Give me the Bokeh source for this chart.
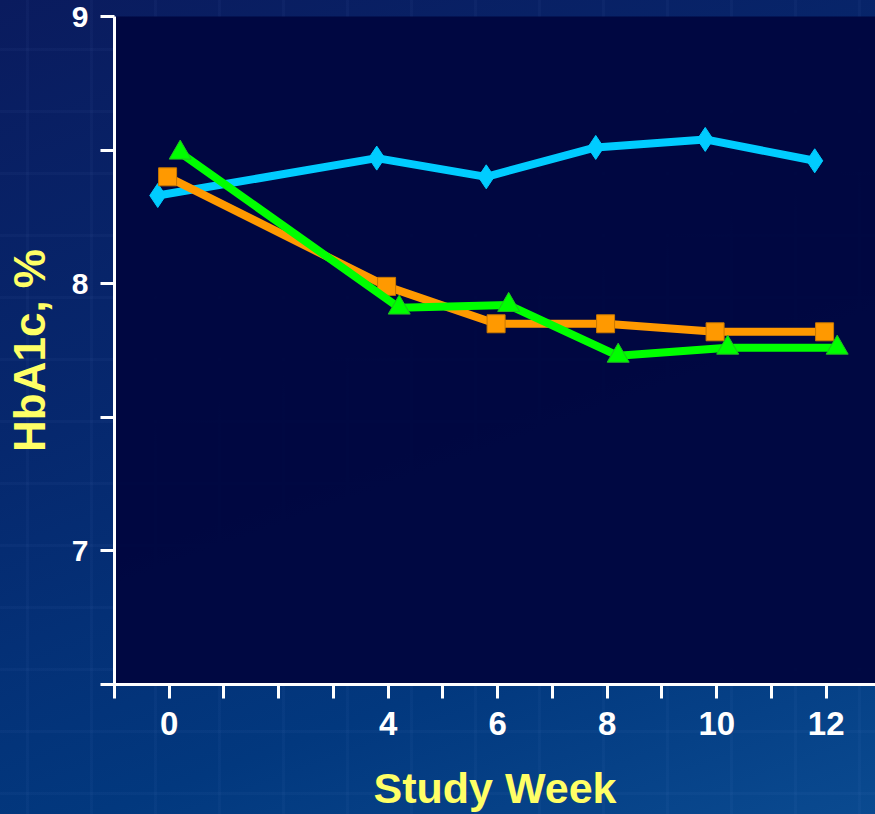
from bokeh.plotting import figure
from bokeh.models import ColumnDataSource, Range1d, FixedTicker
from bokeh.transform import dodge
from bokeh.embed import file_html
from bokeh.resources import INLINE

# HbA1c (%) by study week for the three treatment groups
weeks = [0, 4, 6, 8, 10, 12]
hba1c_cyan = [8.33, 8.47, 8.40, 8.51, 8.54, 8.46]
hba1c_orange = [8.40, 7.99, 7.85, 7.85, 7.82, 7.82]
hba1c_green = [8.49, 7.91, 7.92, 7.73, 7.76, 7.76]

# axis ticks and which of them carry a label
x_ticks = list(range(-1, 13))
x_tick_labels = ["0", "4", "6", "8", "10", "12"]
y_ticks = [6.5, 7, 7.5, 8, 8.5, 9]
y_tick_labels = ["7", "8", "9"]

FONT = "Liberation Sans"
YELLOW = "#FFFF66"

source = ColumnDataSource(dict(week=weeks, cyan=hba1c_cyan,
                               orange=hba1c_orange, green=hba1c_green))

p = figure(width=875, height=814,
           x_range=Range1d(-1, 12.9), y_range=Range1d(6.5, 9),
           output_backend="svg", toolbar_location=None,
           min_border_left=114, min_border_right=0,
           min_border_top=16, min_border_bottom=130)

# slide-style backdrop: blue gradient with a faint grid pattern
p.border_fill_alpha = 0
p.styles = {
    "background": (
        "repeating-linear-gradient(90deg, transparent 0px, transparent 26px, "
        "rgba(150,180,255,0.035) 26px, rgba(150,180,255,0.035) 29px, transparent 29px, transparent 64px), "
        "repeating-linear-gradient(180deg, transparent 0px, transparent 48px, "
        "rgba(150,180,255,0.035) 48px, rgba(150,180,255,0.035) 51px, transparent 51px, transparent 62px), "
        "linear-gradient(160deg, #0a1b5e 0%, #06286e 40%, #02387e 75%, #0a4a90 100%)"
    )
}
p.background_fill_color = "#000640"
p.background_fill_alpha = 0.96
p.outline_line_color = None
p.xgrid.visible = False
p.ygrid.visible = False

for ax in (p.xaxis[0], p.yaxis[0]):
    ax.axis_line_color = "white"
    ax.axis_line_width = 3
    ax.major_tick_line_color = "white"
    ax.major_tick_line_width = 3
    ax.major_tick_in = 0
    ax.major_tick_out = 14
    ax.minor_tick_line_color = None
    ax.major_label_text_color = "white"
    ax.major_label_text_font = FONT
    ax.major_label_text_font_style = "bold"
    ax.axis_label_text_color = YELLOW
    ax.axis_label_text_font = FONT
    ax.axis_label_text_font_style = "bold"

p.xaxis.ticker = FixedTicker(ticks=x_ticks)
p.xaxis.major_label_overrides = {t: (str(t) if str(t) in x_tick_labels else "") for t in x_ticks}
p.xaxis.major_label_text_font_size = "33px"
p.xaxis.major_label_standoff = 13
p.xaxis.axis_label = "Study Week"
p.xaxis.axis_label_text_font_size = "43px"
p.xaxis.axis_label_standoff = 26

p.yaxis.ticker = FixedTicker(ticks=y_ticks)
p.yaxis.major_label_overrides = {
    t: (f"{t:g}" if f"{t:g}" in y_tick_labels else "") for t in y_ticks}
p.yaxis.major_label_text_font_size = "30px"
p.yaxis.major_label_standoff = 12
p.yaxis.axis_label = "HbA1c, %"
p.yaxis.axis_label_text_font_size = "44px"
p.yaxis.axis_label_standoff = 15

# three series, each nudged sideways so the markers do not overlap
series = [
    ("cyan", "#00CCFF", "diamond", 24, -0.21, "#00CCFF"),
    ("orange", "#FF9900", "square", 18, -0.03, "#C87800"),
    ("green", "#00FF00", "triangle", 22, 0.20, "#22BB22"),
]
for col, color, marker, size, shift, edge in series:
    xs = dodge("week", shift, range=p.x_range)
    p.line(x=xs, y=col, source=source, line_color=color, line_width=8,
           line_join="round")
    p.scatter(x=xs, y=col, source=source, marker=marker, size=size,
              fill_color=color, line_color=edge, line_width=1)

open("out.html", "w").write(file_html(p, INLINE))
